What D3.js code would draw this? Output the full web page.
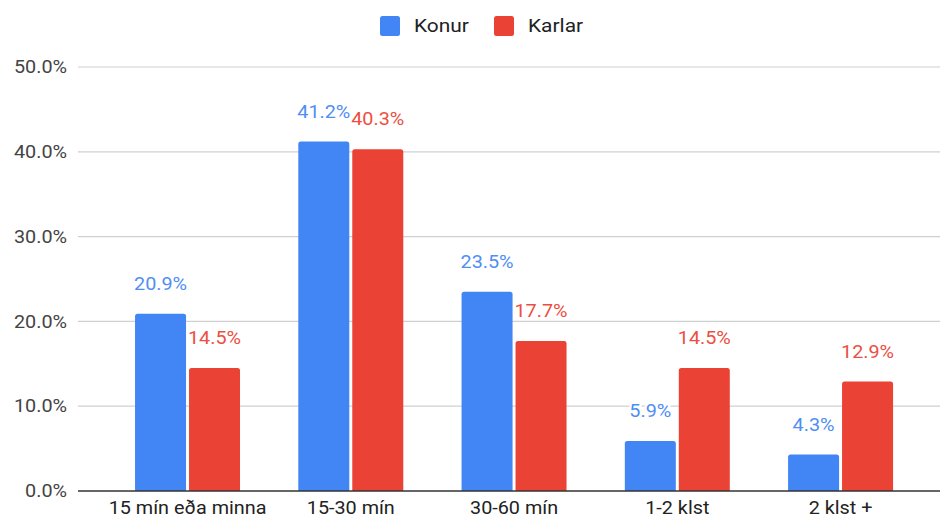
<!DOCTYPE html>
<html><head><meta charset="utf-8">
<script src="https://cdn.jsdelivr.net/npm/d3@7"></script>
<style>body{margin:0;background:#fff}svg{display:block;font-family:Roboto,Arial,sans-serif}</style>
</head><body><svg id="c" width="940" height="518"></svg>
<script>
const categories = ["15 mín eða minna", "15-30 mín", "30-60 mín", "1-2 klst", "2 klst +"];
const seriesNames = ["Konur", "Karlar"];
const konur = [20.9, 41.2, 23.5, 5.9, 4.3];
const karlar = [14.5, 40.3, 17.7, 14.5, 12.9];
const yTicks = [0, 10, 20, 30, 40, 50];
const colors = ["#4285F4", "#EA4335"];
const labelColors = ["#4f8ef5", "#ec4f42"];

const svg = d3.select("#c");
const plotLeft = 78, plotRight = 940, plotTop = 67, plotBottom = 491;
const stretch = 1.1;
const y = d3.scaleLinear().domain([0, 50]).range([plotBottom, plotTop]);
const x = d3.scaleBand().domain(categories).range([105.9, 922.2]).paddingInner(0.357).paddingOuter(0.1785);
const xs = d3.scaleBand().domain(seriesNames).range([0, x.bandwidth()]).paddingInner(0.055);

// gridlines
svg.append("g").selectAll("line").data(yTicks.filter(t => t > 0)).join("line")
  .attr("x1", plotLeft).attr("x2", plotRight).attr("y1", d => y(d)).attr("y2", d => y(d))
  .attr("stroke", "#d0d0d0").attr("stroke-width", 1.2);

// y axis labels
const yAxis = d3.axisLeft(y).tickValues(yTicks).tickFormat(d => d.toFixed(1) + "%").tickSize(0).tickPadding(0);
const yg = svg.append("g").attr("transform", `translate(67,0)`).call(yAxis);
yg.select(".domain").remove();
yg.selectAll("text").attr("font-size", 18).attr("fill", "#444").attr("font-family", "Roboto,Arial,sans-serif")
  .attr("transform", `scale(${stretch},1)`);

const data = [konur, karlar];
function barPath(x0, w, yTop, yBot, r) {
  r = Math.min(r, (yBot - yTop));
  return `M${x0},${yBot}V${yTop + r}Q${x0},${yTop} ${x0 + r},${yTop}H${x0 + w - r}Q${x0 + w},${yTop} ${x0 + w},${yTop + r}V${yBot}Z`;
}
seriesNames.forEach((s, si) => {
  const g = svg.append("g");
  g.selectAll("path").data(data[si]).join("path")
    .attr("d", (d, i) => barPath(x(categories[i]) + xs(s), xs.bandwidth(), y(d), plotBottom, 2.5))
    .attr("fill", colors[si]);
});
// baseline
svg.append("line").attr("x1", plotLeft).attr("x2", plotRight).attr("y1", plotBottom).attr("y2", plotBottom)
  .attr("stroke", "#333").attr("stroke-width", 1.5);

// data labels
seriesNames.forEach((s, si) => {
  svg.append("g").selectAll("text").data(data[si]).join("text")
    .attr("transform", (d, i) => `translate(${x(categories[i]) + xs(s) + xs.bandwidth() / 2},${y(d) - 24}) scale(${stretch},1)`)
    .attr("text-anchor", "middle").attr("font-size", 18)
    .attr("fill", labelColors[si])
    .attr("stroke", "#fff").attr("stroke-width", 4).attr("paint-order", "stroke")
    .text(d => d.toFixed(1) + "%");
});

// x axis labels
const xAxis = d3.axisBottom(x).tickSize(0).tickPadding(0);
const xg = svg.append("g").attr("transform", `translate(0,${plotBottom})`).call(xAxis);
xg.select(".domain").remove();
xg.selectAll("text").attr("font-size", 18).attr("fill", "#222").attr("dy", null).attr("y", 23)
  .attr("font-family", "Roboto,Arial,sans-serif").attr("transform", `scale(${stretch},1)`);

// legend
const legend = svg.append("g");
const legX = [380, 494];
seriesNames.forEach((s, si) => {
  legend.append("rect").attr("x", legX[si]).attr("y", 16).attr("width", 20).attr("height", 20)
    .attr("rx", 2.5).attr("fill", colors[si]);
  legend.append("text").attr("transform", `translate(${legX[si] + 34},32) scale(${stretch},1)`)
    .attr("font-size", 19).attr("fill", "#222").text(s);
});
</script></body></html>
